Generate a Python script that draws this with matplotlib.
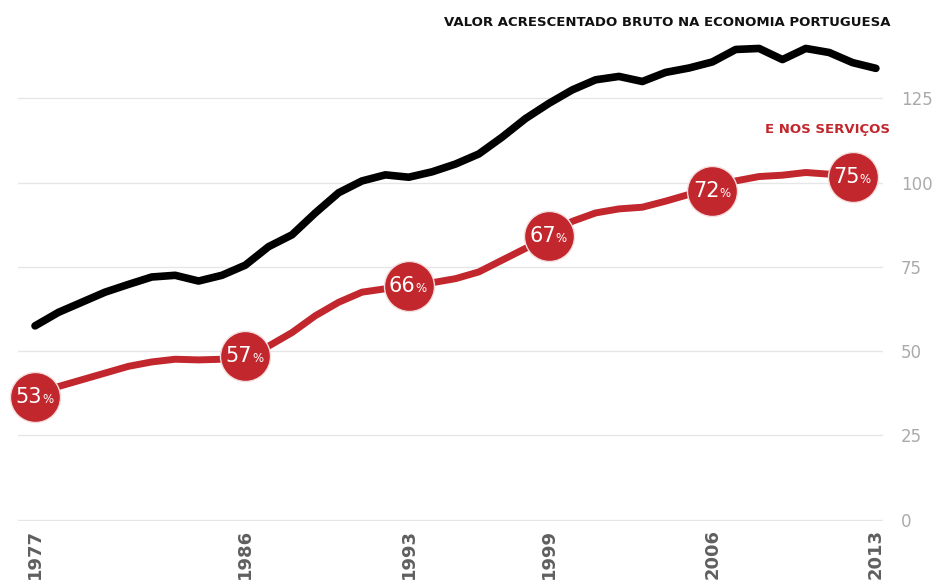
import matplotlib.pyplot as plt

# valor acrescentado bruto (indice) - economia total e servicos
anos = list(range(1977, 2014))
vab_total = [57.5, 61.5, 64.5, 67.5, 69.8, 72.0, 72.5, 70.8, 72.5, 75.5,
             81.0, 84.5, 91.0, 97.0, 100.5, 102.3, 101.6, 103.2, 105.5, 108.5,
             113.5, 119.0, 123.5, 127.5, 130.5, 131.5, 130.0, 132.7, 134.0, 135.8,
             139.5, 139.8, 136.5, 139.8, 138.6, 135.6, 133.9]
anos_serv = list(range(1977, 2013))
vab_servicos = [36.4, 39.5, 41.5, 43.5, 45.5, 46.8, 47.6, 47.4, 47.6, 48.6,
                51.5, 55.5, 60.5, 64.5, 67.5, 68.5, 69.4, 70.3, 71.5, 73.5,
                77.0, 80.5, 84.2, 88.5, 91.0, 92.2, 92.7, 94.5, 96.5, 97.5,
                100.5, 101.8, 102.2, 103.0, 102.5, 101.6]
# peso dos servicos no VAB
anos_peso = [1977, 1986, 1993, 1999, 2006, 2012]
peso = [53, 57, 66, 67, 72, 75]
ticks_x = [1977, 1986, 1993, 1999, 2006, 2013]
ticks_y = [0, 25, 50, 75, 100, 125]

vermelho = '#c1272d'

fig = plt.figure(figsize=(9.32, 5.83), dpi=100)
ax = fig.add_axes([0.0193, 0.1063, 0.928, 0.858])

ax.plot(anos, vab_total, color='black', lw=5.5, solid_capstyle='round', zorder=3)
ax.plot(anos_serv, vab_servicos, color=vermelho, lw=5, solid_capstyle='round', zorder=3)

serv = dict(zip(anos_serv, vab_servicos))
for a, p in zip(anos_peso, peso):
    y = serv[a]
    ax.plot(a, y, 'o', ms=36, color=vermelho, mec='#f4dcdc', mew=1, zorder=4, clip_on=False)
    ax.annotate(str(p), (a, y), xytext=(5, 0), textcoords='offset points',
                ha='right', va='center', color='white', fontsize=15, zorder=5)
    ax.annotate('%', (a, y), xytext=(5, -2), textcoords='offset points',
                ha='left', va='center', color='white', fontsize=8.5, zorder=5)

ax.set_xlim(1976.27, 2013.3)
ax.set_ylim(-0.4, 148)
ax.set_xticks(ticks_x)
ax.set_xticklabels([str(t) for t in ticks_x], rotation=90, fontsize=13,
                   fontweight='bold', color='#5f5f5f', va='top')
ax.set_yticks(ticks_y)
ax.set_yticklabels([str(t) for t in ticks_y], fontsize=12, color='#aaaaaa')
ax.yaxis.tick_right()
ax.tick_params(axis='y', length=0, pad=13)
ax.tick_params(axis='x', length=0, pad=6)
ax.grid(axis='y', color='#e6e6e6', lw=1)
ax.set_axisbelow(True)
for s in ax.spines.values():
    s.set_visible(False)

fig.text(0.955, 0.962, 'VALOR ACRESCENTADO BRUTO NA ECONOMIA PORTUGUESA',
         ha='right', va='center', fontsize=9.5, fontweight='bold', color='#111111')
fig.text(0.955, 0.778, 'E NOS SERVIÇOS', ha='right', va='center',
         fontsize=9.5, fontweight='bold', color=vermelho)

fig.savefig('out.png', dpi=100)
